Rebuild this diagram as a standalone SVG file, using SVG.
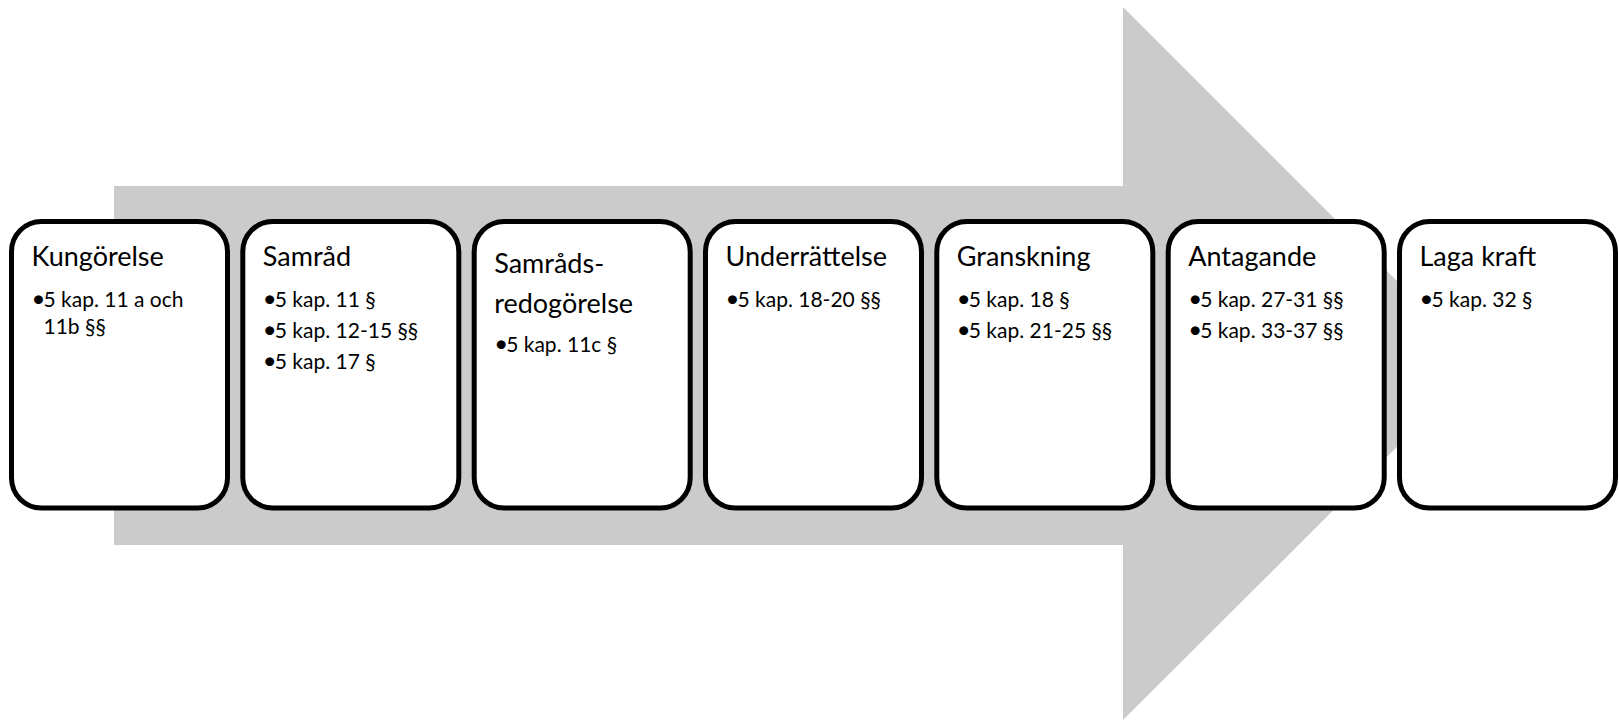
<svg xmlns="http://www.w3.org/2000/svg" width="1619" height="721" viewBox="0 0 1619 721">
  <style>
    .step { fill: #ffffff; stroke: #000000; stroke-width: 5; }
    .title { font-family: Lato, "Liberation Sans", sans-serif; font-size: 27px; fill: #000000; }
    .item { font-family: Lato, "Liberation Sans", sans-serif; font-size: 21px; fill: #000000; }
    .dot { font-size: 24px; }
  </style>
  <defs>
    <rect id="card" class="step" x="0" y="0" width="216" height="286.5" rx="30" ry="30"/>
  </defs>

  <!-- background process arrow -->
  <g id="connectors">
    <polygon points="114,186 1123,186 1123,7 1480,364 1123,720 1123,545 114,545" fill="#cbcbcb"/>
  </g>

  <g id="kungorelse" transform="translate(11.5,221.5)">
    <use href="#card"/>
    <text class="title" x="20" y="44.5">Kungörelse</text>
    <text class="item" y="85.5"><tspan class="dot" x="20">•</tspan><tspan x="32">5 kap. 11 a och</tspan></text>
    <text class="item" x="32" y="112">11b §§</text>
  </g>

  <g id="samrad" transform="translate(242.8,221.5)">
    <use href="#card"/>
    <text class="title" x="20" y="44.5">Samråd</text>
    <text class="item" y="85.5"><tspan class="dot" x="20">•</tspan><tspan x="32">5 kap. 11 §</tspan></text>
    <text class="item" y="116"><tspan class="dot" x="20">•</tspan><tspan x="32">5 kap. 12-15 §§</tspan></text>
    <text class="item" y="147.5"><tspan class="dot" x="20">•</tspan><tspan x="32">5 kap. 17 §</tspan></text>
  </g>

  <g id="samradsredogorelse" transform="translate(474.2,221.5)">
    <use href="#card"/>
    <text class="title" x="20" y="51.5">Samråds-</text>
    <text class="title" x="20" y="91">redogörelse</text>
    <text class="item" y="130"><tspan class="dot" x="20">•</tspan><tspan x="32">5 kap. 11c §</tspan></text>
  </g>

  <g id="underrattelse" transform="translate(705.5,221.5)">
    <use href="#card"/>
    <text class="title" x="20" y="44.5">Underrättelse</text>
    <text class="item" y="85.5"><tspan class="dot" x="20">•</tspan><tspan x="32">5 kap. 18-20 §§</tspan></text>
  </g>

  <g id="granskning" transform="translate(936.8,221.5)">
    <use href="#card"/>
    <text class="title" x="20" y="44.5">Granskning</text>
    <text class="item" y="85.5"><tspan class="dot" x="20">•</tspan><tspan x="32">5 kap. 18 §</tspan></text>
    <text class="item" y="116"><tspan class="dot" x="20">•</tspan><tspan x="32">5 kap. 21-25 §§</tspan></text>
  </g>

  <g id="antagande" transform="translate(1168.2,221.5)">
    <use href="#card"/>
    <text class="title" x="20" y="44.5">Antagande</text>
    <text class="item" y="85.5"><tspan class="dot" x="20">•</tspan><tspan x="32">5 kap. 27-31 §§</tspan></text>
    <text class="item" y="116"><tspan class="dot" x="20">•</tspan><tspan x="32">5 kap. 33-37 §§</tspan></text>
  </g>

  <g id="laga-kraft" transform="translate(1399.5,221.5)">
    <use href="#card"/>
    <text class="title" x="20" y="44.5">Laga kraft</text>
    <text class="item" y="85.5"><tspan class="dot" x="20">•</tspan><tspan x="32">5 kap. 32 §</tspan></text>
  </g>
</svg>
